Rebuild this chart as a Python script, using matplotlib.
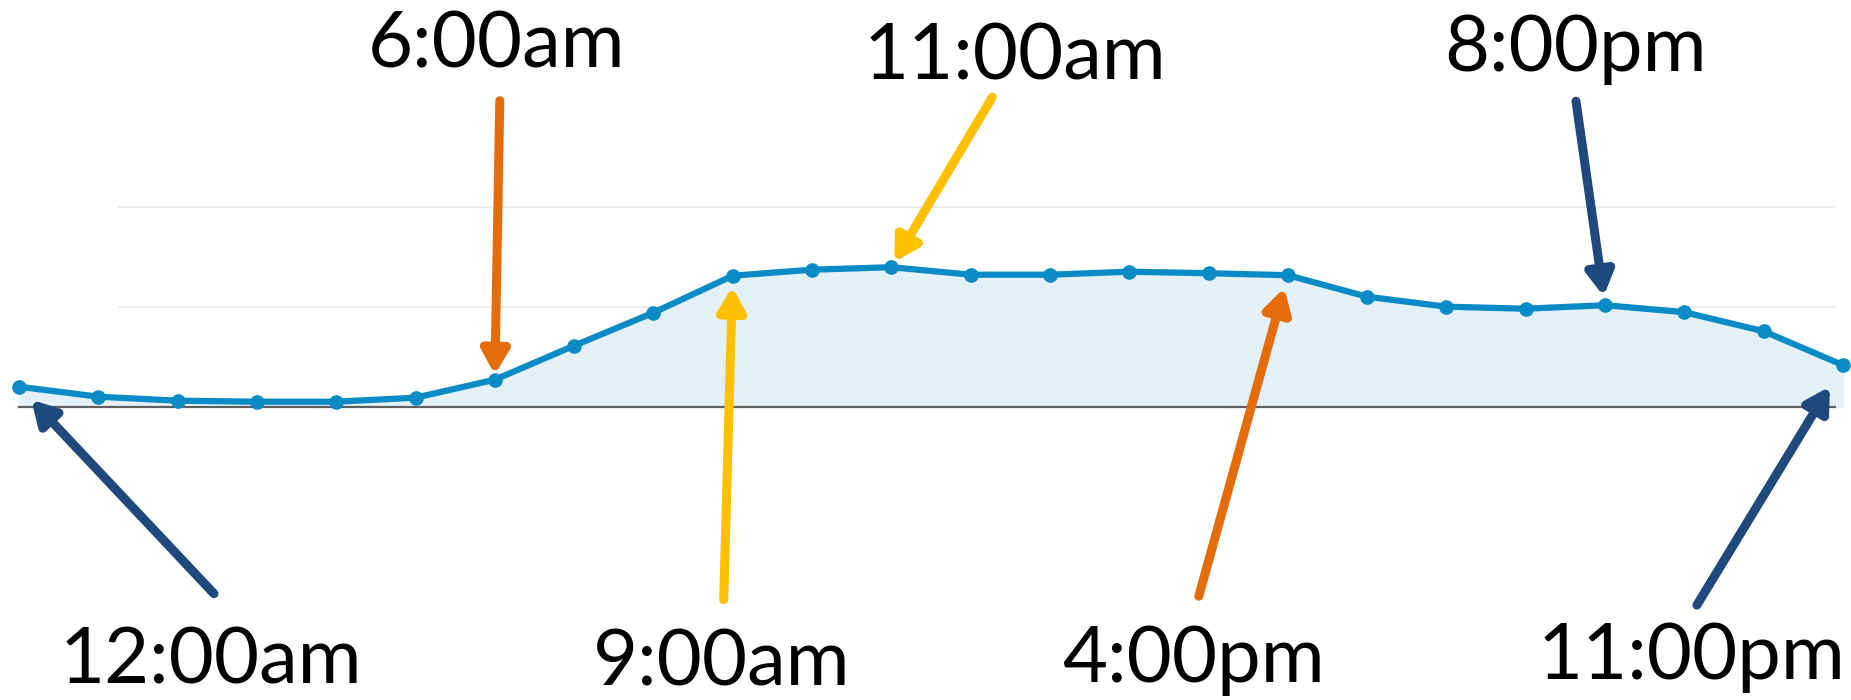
import matplotlib
matplotlib.use("Agg")
import matplotlib.pyplot as plt
import matplotlib.patheffects as pe

# hourly values (baseline = 0, one gridline = 100)
hours = list(range(24))
values = [20, 10, 6, 5, 5, 9, 27, 61, 94, 131, 137, 139.5, 132, 132, 135, 133.5,
          131.5, 110, 100, 98, 101.5, 94.5, 75.5, 41.6]
grid_levels = [100, 200]

# labels: hour index, text, colour, text pos (px from left, baseline px from top),
# arrow tail offset from the point (px), gap between head and point (px)
labels = [
    (6, "6:00am", "#E46C0A", (496, 68), (5, 279), 5),
    (11, "11:00am", "#FFC000", (1015, 80), (101, 170), 6),
    (20, "8:00pm", "#1F497D", (1575, 71), (-29, 204), 9),
    (0, "12:00am", "#1F497D", (211, 684), (195, -207), 18),
    (9, "9:00am", "#FFC000", (722, 685), (-9, -324), 11),
    (16, "4:00pm", "#E46C0A", (1193, 682), (-89, -321), 13),
    (23, "11:00pm", "#1F497D", (1691, 679), (-146, -240), 25),
]

W, H = 1851, 700
fig = plt.figure(figsize=(W / 100, H / 100), dpi=100)
ax = fig.add_axes([0, 0, 1, 1])
x0, dx = 19, 79.3
ax.set_xlim(-x0 / dx, (W - x0) / dx)
ax.set_ylim(406.7 - H, 406.7)
ax.axis("off")

for g in grid_levels:
    ax.plot([(119 - x0) / dx, (1835 - x0) / dx], [g, g], color="#EBEBEB", lw=1.2, zorder=1)
ax.fill_between(hours, 0, values, color="#E4F1F8", zorder=2)
ax.plot([0, (1835 - x0) / dx], [0, 0], color="#5F5F5F", lw=1.6, zorder=3)
ax.plot(hours, values, color="#0A8BC6", lw=4.5, marker="o", ms=9.5, zorder=4)

px2pt = 72 / 100
for i, txt, col, tpos, off, gap in labels:
    ax.annotate("", xy=(hours[i], values[i]), xytext=off, textcoords="offset pixels",
                arrowprops=dict(arrowstyle="-|>,head_length=1.4,head_width=0.8",
                                color=col, lw=6.5, shrinkA=0, shrinkB=gap * px2pt,
                                path_effects=[pe.SimplePatchShadow(offset=(2, -2), alpha=0.3),
                                              pe.Normal()]),
                zorder=5)
    fig.text(tpos[0] / W, 1 - tpos[1] / H, txt, ha="center", va="baseline",
             fontsize=56, family="Lato", color="black")

fig.savefig("out.png", dpi=100)
